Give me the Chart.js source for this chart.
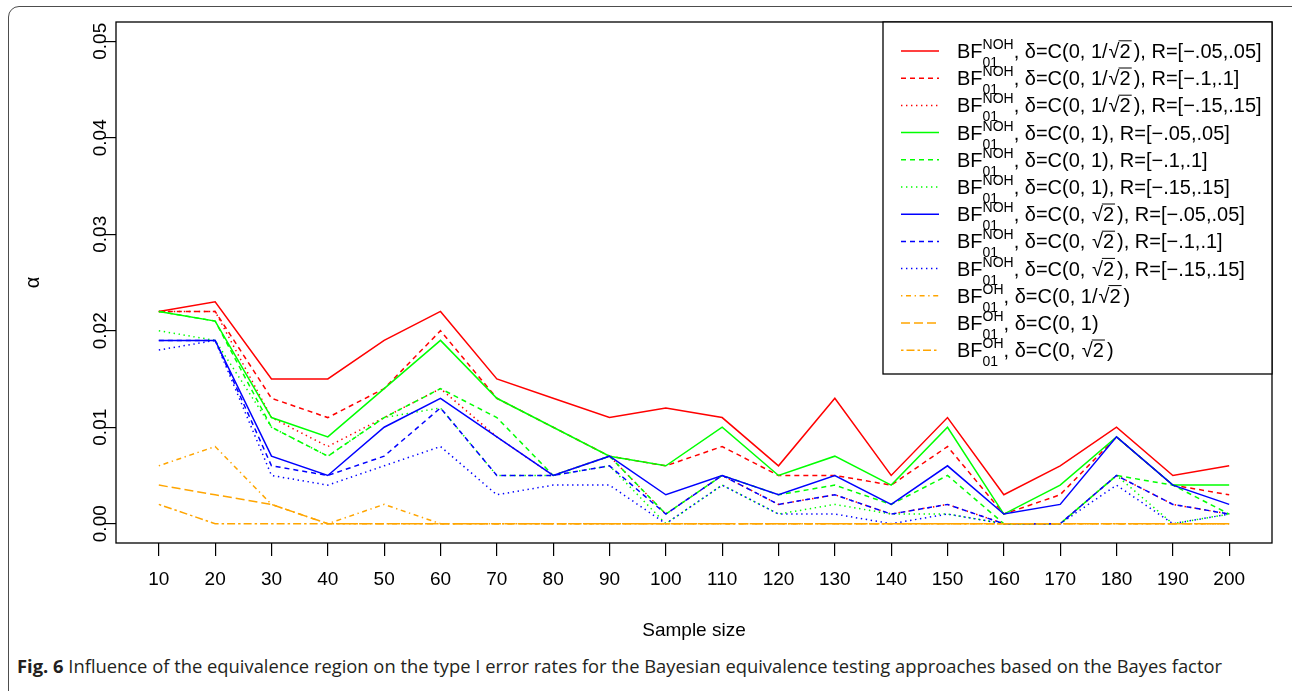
<!DOCTYPE html>
<html>
<head>
<meta charset="utf-8">
<script src="https://cdn.jsdelivr.net/npm/chart.js@4.4.1/dist/chart.umd.min.js"></script>
<style>
  body { margin: 0; background: #fff; width: 1292px; height: 691px; overflow: hidden; position: relative; }
  #frame { position: absolute; left: 8px; top: 6px; width: 1320px; height: 740px; border: 1.5px solid #4d4d4d; border-radius: 11px; box-sizing: border-box; }
  #chart { position: absolute; left: 0; top: 0; }
  #caption { position: absolute; left: 17px; top: 654px; font-family: "Open Sans", sans-serif; font-size: 18px; color: #231f20; white-space: nowrap; transform-origin: 0 0; }
</style>
</head>
<body>
<div id="frame"></div>
<canvas id="chart" width="1292" height="650"></canvas>
<div id="caption"><b>Fig. 6</b> Influence of the equivalence region on the type I error rates for the Bayesian equivalence testing approaches based on the Bayes factor</div>
<script>
const sampleSizes = [10, 20, 30, 40, 50, 60, 70, 80, 90, 100, 110, 120, 130, 140, 150, 160, 170, 180, 190, 200];
const yTicks = [0, 0.01, 0.02, 0.03, 0.04, 0.05];

// BF01 NOH, delta = C(0, 1/sqrt2)
const nohHalfR05 = [0.022, 0.023, 0.015, 0.015, 0.019, 0.022, 0.015, 0.013, 0.011, 0.012, 0.011, 0.006, 0.013, 0.005, 0.011, 0.003, 0.006, 0.010, 0.005, 0.006];
const nohHalfR10 = [0.022, 0.022, 0.013, 0.011, 0.014, 0.020, 0.013, 0.010, 0.007, 0.006, 0.008, 0.005, 0.005, 0.004, 0.008, 0.001, 0.003, 0.009, 0.004, 0.003];
const nohHalfR15 = [0.022, 0.022, 0.011, 0.008, 0.011, 0.014, 0.009, 0.005, 0.007, 0.001, 0.005, 0.002, 0.003, 0.001, 0.002, 0.000, 0.000, 0.005, 0.002, 0.001];
// BF01 NOH, delta = C(0, 1)
const nohOneR05 = [0.022, 0.021, 0.011, 0.009, 0.014, 0.019, 0.013, 0.010, 0.007, 0.006, 0.010, 0.005, 0.007, 0.004, 0.010, 0.001, 0.004, 0.009, 0.004, 0.004];
const nohOneR10 = [0.022, 0.021, 0.010, 0.007, 0.011, 0.014, 0.011, 0.005, 0.007, 0.001, 0.005, 0.003, 0.004, 0.002, 0.005, 0.000, 0.000, 0.005, 0.004, 0.001];
const nohOneR15 = [0.020, 0.019, 0.010, 0.007, 0.011, 0.012, 0.005, 0.005, 0.006, 0.000, 0.004, 0.001, 0.002, 0.001, 0.001, 0.000, 0.000, 0.005, 0.000, 0.001];
// BF01 NOH, delta = C(0, sqrt2)
const nohSqrtR05 = [0.019, 0.019, 0.007, 0.005, 0.010, 0.013, 0.009, 0.005, 0.007, 0.003, 0.005, 0.003, 0.005, 0.002, 0.006, 0.001, 0.002, 0.009, 0.004, 0.002];
const nohSqrtR10 = [0.019, 0.019, 0.006, 0.005, 0.007, 0.012, 0.005, 0.005, 0.006, 0.001, 0.005, 0.002, 0.003, 0.001, 0.002, 0.000, 0.000, 0.005, 0.002, 0.001];
const nohSqrtR15 = [0.018, 0.019, 0.005, 0.004, 0.006, 0.008, 0.003, 0.004, 0.004, 0.000, 0.004, 0.001, 0.001, 0.000, 0.001, 0.000, 0.000, 0.004, 0.000, 0.001];
// BF01 OH
const ohHalf = [0.006, 0.008, 0.002, 0.000, 0.002, 0.000, 0.000, 0.000, 0.000, 0.000, 0.000, 0.000, 0.000, 0.000, 0.000, 0.000, 0.000, 0.000, 0.000, 0.000];
const ohOne = [0.004, 0.003, 0.002, 0.000, 0.000, 0.000, 0.000, 0.000, 0.000, 0.000, 0.000, 0.000, 0.000, 0.000, 0.000, 0.000, 0.000, 0.000, 0.000, 0.000];
const ohSqrt = [0.002, 0.000, 0.000, 0.000, 0.000, 0.000, 0.000, 0.000, 0.000, 0.000, 0.000, 0.000, 0.000, 0.000, 0.000, 0.000, 0.000, 0.000, 0.000, 0.000];

const legendSup = ['NOH', 'NOH', 'NOH', 'NOH', 'NOH', 'NOH', 'NOH', 'NOH', 'NOH', 'OH', 'OH', 'OH'];
const legendRest = [
  ', δ=C(0, 1/√2), R=[−.05,.05]',
  ', δ=C(0, 1/√2), R=[−.1,.1]',
  ', δ=C(0, 1/√2), R=[−.15,.15]',
  ', δ=C(0, 1), R=[−.05,.05]',
  ', δ=C(0, 1), R=[−.1,.1]',
  ', δ=C(0, 1), R=[−.15,.15]',
  ', δ=C(0, √2), R=[−.05,.05]',
  ', δ=C(0, √2), R=[−.1,.1]',
  ', δ=C(0, √2), R=[−.15,.15]',
  ', δ=C(0, 1/√2)',
  ', δ=C(0, 1)',
  ', δ=C(0, √2)'
];

const series = [nohHalfR05, nohHalfR10, nohHalfR15, nohOneR05, nohOneR10, nohOneR15,
                nohSqrtR05, nohSqrtR10, nohSqrtR15, ohHalf, ohOne, ohSqrt];
const colors = ['#ff0000', '#ff0000', '#ff0000', '#00ff00', '#00ff00', '#00ff00',
                '#0000ff', '#0000ff', '#0000ff', '#ffa500', '#ffa500', '#ffa500'];
const SOLID = [], DASHED = [5, 4], DOTTED = [1.4, 3.6], DOTDASH = [1.4, 3.6, 5, 3.6],
      LONGDASH = [9, 4], TWODASH = [2.5, 3, 8, 3];
const dashes = [SOLID, DASHED, DOTTED, SOLID, DASHED, DOTTED, SOLID, DASHED, DOTTED, DOTDASH, LONGDASH, TWODASH];

const FONT = 'Liberation Sans, Arial, sans-serif';

const datasets = series.map((vals, i) => ({
  data: sampleSizes.map((n, j) => ({ x: n, y: vals[j] })),
  borderColor: colors[i],
  borderDash: dashes[i],
  borderWidth: 1.5,
  pointRadius: 0,
  tension: 0,
  fill: false,
  order: -i
}));

// text after the BF symbol; "√2" gets a radical bar over the 2
function drawLabelRest(ctx, text, x, y, size) {
  const parts = text.split('√2');
  parts.forEach((p, k) => {
    ctx.fillText(p, x, y);
    x += ctx.measureText(p).width;
    if (k < parts.length - 1) {
      x += 1;
      ctx.fillText('√', x, y);
      const rw = ctx.measureText('√').width;
      const tw = ctx.measureText('2').width;
      ctx.fillText('2', x + rw, y);
      ctx.beginPath();
      ctx.lineWidth = 1;
      ctx.moveTo(x + rw - 1, y - size * 0.86);
      ctx.lineTo(x + rw + tw + 1, y - size * 0.86);
      ctx.stroke();
      x += rw + tw + 3;
    }
  });
}

const boxAndLegend = {
  id: 'boxAndLegend',
  afterDraw(chart) {
    const { ctx, chartArea: a } = chart;
    ctx.save();
    ctx.strokeStyle = '#000';
    ctx.lineWidth = 1.3;
    ctx.strokeRect(a.left, a.top, a.right - a.left, a.bottom - a.top);

    const lx = 883, ly = a.top, lw = a.right - lx, lh = 352;
    ctx.fillStyle = '#fff';
    ctx.fillRect(lx, ly, lw, lh);
    ctx.strokeRect(lx, ly, lw, lh);

    const size = 20, small = 14;
    series.forEach((s, i) => {
      const cy = 51 + i * 27.2;
      ctx.beginPath();
      ctx.strokeStyle = colors[i];
      ctx.lineWidth = 1.5;
      ctx.setLineDash(dashes[i]);
      ctx.moveTo(901, cy);
      ctx.lineTo(939, cy);
      ctx.stroke();
      ctx.setLineDash([]);

      const base = cy + 7;
      let x = 957;
      ctx.fillStyle = '#000';
      ctx.strokeStyle = '#000';
      ctx.textBaseline = 'alphabetic';
      ctx.textAlign = 'left';
      ctx.font = size + 'px ' + FONT;
      ctx.fillText('BF', x, base);
      x += ctx.measureText('BF').width;
      ctx.font = small + 'px ' + FONT;
      ctx.fillText(legendSup[i], x, base - 9);
      ctx.fillText('01', x, base + 9);
      x += Math.max(ctx.measureText(legendSup[i]).width, ctx.measureText('01').width);
      ctx.font = size + 'px ' + FONT;
      drawLabelRest(ctx, legendRest[i], x, base, size);
    });
    ctx.restore();
  }
};

new Chart(document.getElementById('chart'), {
  type: 'line',
  data: { datasets },
  plugins: [boxAndLegend],
  options: {
    responsive: false,
    animation: false,
    devicePixelRatio: 1,
    layout: { padding: { left: 0, top: 22, right: 20, bottom: 0 } },
    plugins: { legend: { display: false }, tooltip: { enabled: false } },
    scales: {
      x: {
        type: 'linear',
        min: 2.4,
        max: 207.6,
        afterBuildTicks: s => { s.ticks = sampleSizes.map(v => ({ value: v })); },
        afterFit: s => { s.height = 107; },
        grid: { drawOnChartArea: false, tickLength: 13, color: '#000', lineWidth: 1.2 },
        border: { display: false },
        ticks: { color: '#000', font: { family: FONT, size: 19 }, padding: 12, maxRotation: 0, autoSkip: false },
        title: { display: true, text: 'Sample size', color: '#000', font: { family: FONT, size: 19 }, padding: { top: 0, bottom: 8 } }
      },
      y: {
        min: -0.002,
        max: 0.052,
        afterBuildTicks: s => { s.ticks = yTicks.map(v => ({ value: v })); },
        afterFit: s => { s.width = 116; },
        grid: { drawOnChartArea: false, tickLength: 13, color: '#000', lineWidth: 1.2 },
        border: { display: false },
        ticks: {
          color: '#000', font: { family: FONT, size: 19 }, minRotation: 90, maxRotation: 90,
          crossAlign: 'center', padding: -16, autoSkip: false,
          callback: v => v.toFixed(2)
        },
        title: { display: true, text: 'α', color: '#000', font: { family: FONT, size: 20 }, padding: { top: 21, bottom: 0 } }
      }
    }
  }
});

const cap = document.getElementById('caption');
const cw = cap.getBoundingClientRect().width;
cap.style.transform = 'scaleX(' + (1205 / cw) + ')';
</script>
</body>
</html>
